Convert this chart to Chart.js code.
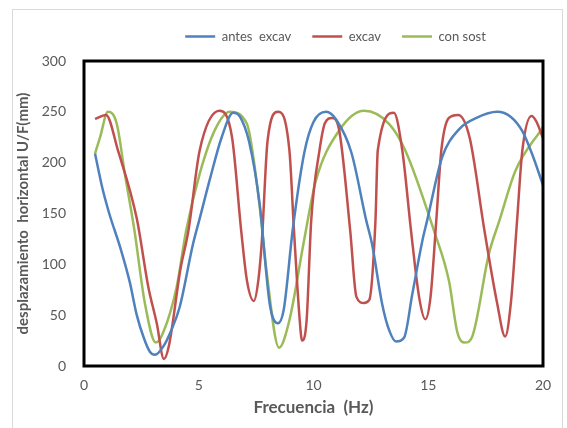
<!DOCTYPE html>
<html>
<head>
<meta charset="utf-8">
<script src="https://cdn.jsdelivr.net/npm/chart.js@4/dist/chart.umd.min.js"></script>
<style>
  html, body { margin: 0; padding: 0; background: #fff; }
  #wrap { width: 567px; height: 428px; }
</style>
</head>
<body>
<div id="wrap"><canvas id="chart" width="567" height="428"></canvas></div>
<script>
// frequency (Hz) and displacement (mm)
const antesX = [0.48, 0.8, 1.1, 1.6, 2.0, 2.3, 2.6, 2.87, 3.1, 3.45, 3.8, 4.17, 4.75, 5.04, 5.5, 6.0, 6.5, 6.8, 7.2, 7.65, 8.1, 8.45, 8.7, 9.1, 9.6, 10.0, 10.55, 11.0, 11.65, 12.3, 12.55, 13.0, 13.3, 13.6, 13.95, 14.3, 14.75, 14.95, 15.6, 16.35, 17.1, 18.0, 18.6, 19.1, 19.5, 20.0];
const antesY = [209, 175, 150, 115, 82, 50, 28, 14, 11, 19, 35, 58, 120, 145, 185, 225, 249, 245, 220, 160, 60, 42, 55, 135, 210, 240, 250, 242, 210, 143, 120, 60, 35, 24, 28, 70, 124, 143, 205, 233, 244, 250, 245, 231, 210, 178];

const excavX = [0.48, 0.96, 1.48, 2.3, 2.8, 3.17, 3.48, 3.7, 4.2, 4.55, 5.04, 5.9, 6.45, 6.85, 7.1, 7.4, 7.6, 7.75, 8.0, 8.45, 8.95, 9.15, 9.4, 9.5, 9.7, 9.9, 10.26, 10.5, 10.8, 11.1, 11.6, 11.87, 12.2, 12.43, 12.7, 12.8, 13.5, 13.87, 14.25, 14.6, 14.87, 15.1, 15.35, 15.57, 15.9, 16.3, 16.8, 17.45, 18.0, 18.35, 18.6, 18.87, 19.1, 19.5, 19.7, 20.0];
const excavY = [243, 247, 212, 145, 78, 42, 7, 20, 95, 133, 212, 251, 225, 133, 84, 64, 85, 123, 222, 250, 212, 133, 45, 25, 45, 143, 212, 239, 244, 234, 133, 68, 62, 65, 143, 212, 249, 212, 133, 68, 46, 68, 143, 212, 244, 247, 225, 133, 62, 29, 62, 143, 212, 246, 241, 224];

const sostX = [0.48, 0.7, 1.04, 1.43, 1.78, 2.2, 2.65, 3.13, 3.45, 4.04, 4.45, 5.04, 5.7, 6.35, 7.1, 7.65, 7.95, 8.5, 8.95, 9.6, 10.1, 11.1, 12.2, 13.3, 14.0, 15.25, 15.9, 16.27, 16.6, 16.9, 17.65, 18.1, 18.8, 20.0];
const sostY = [209, 225, 250, 238, 189, 133, 62, 23, 33, 78, 133, 189, 232, 250, 238, 158, 94, 18, 45, 125, 182, 231, 251, 238, 212, 133, 84, 33, 23, 28, 111, 143, 192, 235];

const xTicks = [0, 5, 10, 15, 20];
const yTicks = [0, 50, 100, 150, 200, 250, 300];

function pts(xs, ys) {
  return xs.map((x, i) => ({ x: x, y: ys[i] }));
}

// thick black frame round the plot, light grey frame round the chart
const frame = {
  id: "frame",
  beforeDraw(chart) {
    const ctx = chart.ctx;
    ctx.save();
    ctx.strokeStyle = "#d9d9d9";
    ctx.lineWidth = 1;
    ctx.strokeRect(12.5, 9.5, 550, 440);
    ctx.restore();
  },
  afterDatasetsDraw(chart) {
    const a = chart.chartArea;
    const ctx = chart.ctx;
    ctx.save();
    ctx.strokeStyle = "#000";
    ctx.lineWidth = 3;
    ctx.strokeRect(a.left, a.top, a.right - a.left, a.bottom - a.top);
    ctx.restore();
  }
};

// legend sits right of centre and a bit higher in the original
const shiftLegend = {
  id: "shiftLegend",
  afterLayout(chart) {
    const lg = chart.legend;
    lg.left += 59;
    lg.right += 59;
    lg.top -= 8;
    lg.bottom -= 8;
  }
};

const grey = "#595959";
const fam = "Lato, 'Open Sans', sans-serif";

new Chart(document.getElementById("chart"), {
  type: "scatter",
  data: {
    datasets: [
      { label: "antes  excav", data: pts(antesX, antesY), borderColor: "#4F81BD", backgroundColor: "#4F81BD", borderWidth: 2.5 },
      { label: "excav", data: pts(excavX, excavY), borderColor: "#C0504D", backgroundColor: "#C0504D", borderWidth: 2.5 },
      { label: "con sost", data: pts(sostX, sostY), borderColor: "#9BBB59", backgroundColor: "#9BBB59", borderWidth: 2.5 }
    ]
  },
  options: {
    responsive: false,
    animation: false,
    showLine: true,
    elements: {
      point: { radius: 0, hoverRadius: 0 },
      line: { borderWidth: 2.5, cubicInterpolationMode: "monotone" }
    },
    layout: { padding: { top: 17, right: 24, left: 10, bottom: 6 } },
    plugins: {
      legend: {
        position: "top",
        labels: {
          usePointStyle: true,
          pointStyle: "line",
          pointStyleWidth: 30,
          padding: 21,
          color: grey,
          font: { family: fam, size: 13 }
        }
      },
      tooltip: { enabled: false }
    },
    scales: {
      x: {
        type: "linear",
        min: 0, max: 20,
        afterBuildTicks(s) { s.ticks = xTicks.map(v => ({ value: v })); },
        afterFit(s) { s.height = 56; },
        grid: { display: false },
        border: { display: false },
        ticks: { color: grey, font: { family: fam, size: 14 }, padding: 3 },
        title: { display: true, text: "Frecuencia  (Hz)", color: grey, font: { family: fam, size: 17, weight: "bold" } }
      },
      y: {
        min: 0, max: 300,
        afterBuildTicks(s) { s.ticks = yTicks.map(v => ({ value: v })); },
        afterFit(s) { s.width = 74; },
        grid: { display: false },
        border: { display: false },
        ticks: { color: grey, font: { family: fam, size: 14 }, padding: 10 },
        title: { display: true, text: "desplazamiento  horizontal U/F(mm)", color: grey, font: { family: fam, size: 15, weight: "bold" } }
      }
    }
  },
  plugins: [frame, shiftLegend]
});
</script>
</body>
</html>
